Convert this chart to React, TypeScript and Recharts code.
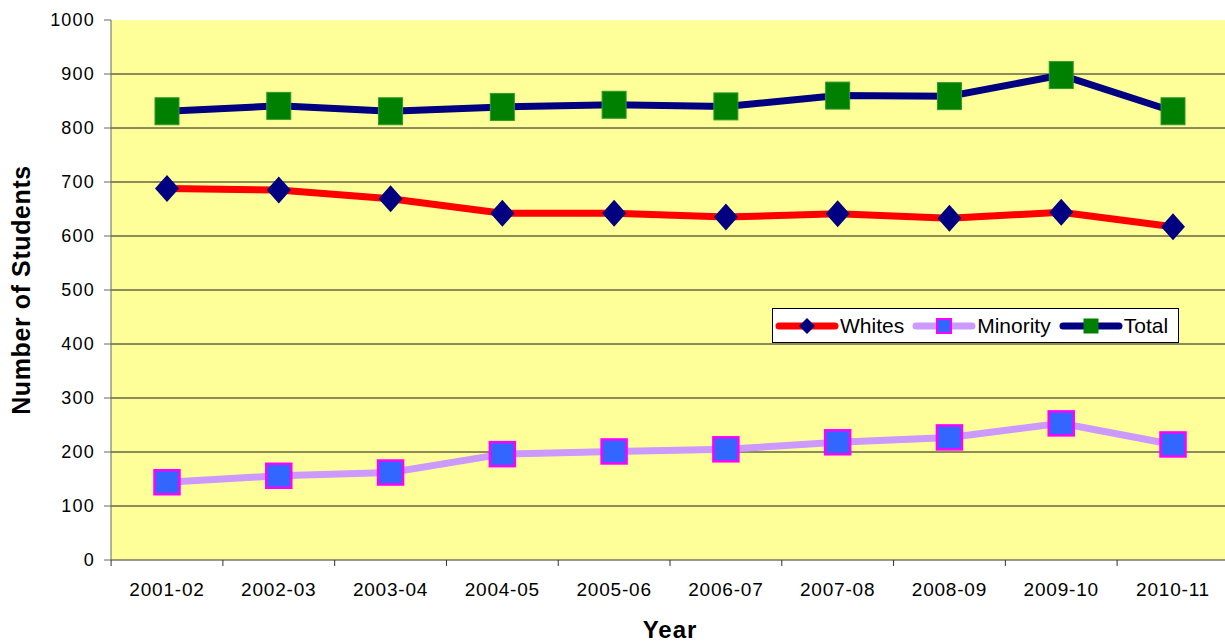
import {
  CartesianGrid,
  Legend,
  Line,
  LineChart,
  XAxis,
  YAxis,
} from 'recharts'

const years = [
  '2001-02', '2002-03', '2003-04', '2004-05', '2005-06',
  '2006-07', '2007-08', '2008-09', '2009-10', '2010-11',
]
const whites = [688, 685, 669, 642, 642, 635, 641, 633, 644, 617]
const minority = [144, 156, 162, 196, 201, 205, 218, 227, 253, 214]
const total = [831, 841, 831, 839, 843, 840, 860, 859, 898, 831]

const yTicks = [0, 100, 200, 300, 400, 500, 600, 700, 800, 900, 1000]
const gridValues = [100, 200, 300, 400, 500, 600, 700, 800, 900]
const legendOrder = ['whites', 'minority', 'total']

const data = years.map((year, i) => ({
  year,
  whites: whites[i],
  minority: minority[i],
  total: total[i],
}))

const font = '"Liberation Sans", Arial, sans-serif'
const X_TICK_GAP = 23

// label + small tick marks on the category boundaries (Excel style)
const XTick = (props: any) => {
  const { x, y, payload, index, width } = props
  const half = width / years.length / 2
  const axisY = y - X_TICK_GAP
  return (
    <g>
      {index === 0 && <line x1={x - half} x2={x - half} y1={axisY} y2={axisY + 6} stroke="#333" />}
      <line x1={x + half} x2={x + half} y1={axisY} y2={axisY + 6} stroke="#333" />
      <text
        x={x}
        y={y}
        dy="0.71em"
        textAnchor="middle"
        fill="#000"
        fontSize={19}
        fontFamily={font}
        letterSpacing={0.8}
      >
        {payload.value}
      </text>
    </g>
  )
}

const whitesDot = (p: any) => (
  <polygon
    key={`w-${p.index}`}
    points={`${p.cx},${p.cy - 13.5} ${p.cx + 12},${p.cy} ${p.cx},${p.cy + 13.5} ${p.cx - 12},${p.cy}`}
    fill="#000080"
  />
)

const minorityDot = (p: any) => (
  <rect
    key={`m-${p.index}`}
    x={p.cx - 12.5}
    y={p.cy - 12}
    width={25}
    height={24}
    fill="#3366FF"
    stroke="#FF00FF"
    strokeWidth={2.5}
  />
)

const totalDot = (p: any) => (
  <rect
    key={`t-${p.index}`}
    x={p.cx - 12}
    y={p.cy - 13.5}
    width={24}
    height={27}
    fill="#008000"
    stroke="#2e9a2e"
    strokeWidth={1}
  />
)

const legendIcon = (key: string, color: string) => (
  <svg width={64} height={18} style={{ display: 'block' }}>
    <line x1={4} y1={9} x2={60} y2={9} stroke={color} strokeWidth={7} strokeLinecap="round" />
    {key === 'whites' && <polygon points="32,1 40,9 32,17 24,9" fill="#000080" />}
    {key === 'minority' && (
      <rect x={25} y={2} width={14} height={14} fill="#3366FF" stroke="#FF00FF" strokeWidth={2} />
    )}
    {key === 'total' && <rect x={24.5} y={1.5} width={15} height={15} fill="#008000" />}
  </svg>
)

const renderLegend = (props: any) => {
  const items = [...(props.payload || [])].sort(
    (a: any, b: any) => legendOrder.indexOf(a.dataKey) - legendOrder.indexOf(b.dataKey),
  )
  return (
    <div
      style={{
        display: 'flex',
        alignItems: 'center',
        height: 33,
        padding: '0 2px',
        border: '1px solid #000',
        background: '#fff',
        fontFamily: font,
        fontSize: 21,
        color: '#000',
        whiteSpace: 'nowrap',
      }}
    >
      {items.map((entry: any) => (
        <div key={entry.dataKey} style={{ display: 'flex', alignItems: 'center', marginRight: 8 }}>
          {legendIcon(entry.dataKey, entry.color)}
          <span style={{ marginLeft: 1 }}>{entry.value}</span>
        </div>
      ))}
    </div>
  )
}

export default function App() {
  return (
    <div
      style={{
        position: 'absolute',
        left: 0,
        top: 0,
        width: 1225,
        height: 642,
        overflow: 'hidden',
        background: '#fff',
      }}
    >
      <LineChart
        width={1229}
        height={642}
        data={data}
        margin={{ top: 20, right: 0, left: 0, bottom: 0 }}
      >
        <CartesianGrid
          vertical={false}
          horizontalValues={gridValues}
          fill="#FFFF99"
          fillOpacity={1}
          stroke="#1a1a1a"
          strokeWidth={1}
        />
        <XAxis
          dataKey="year"
          height={82}
          padding={{ left: 56, right: 56 }}
          axisLine={{ stroke: '#333' }}
          tickLine={false}
          tickSize={0}
          tickMargin={X_TICK_GAP}
          interval={0}
          tick={XTick}
          label={{
            value: 'Year',
            position: 'insideBottom',
            offset: 4,
            style: { fontFamily: font, fontSize: 24, fontWeight: 'bold', fill: '#000', letterSpacing: 1 },
          }}
        />
        <YAxis
          width={111}
          domain={[0, 1000]}
          ticks={yTicks}
          interval={0}
          axisLine={{ stroke: '#666' }}
          tickLine={{ stroke: '#666' }}
          tickSize={7}
          tickMargin={9}
          tick={{ fill: '#000', fontSize: 18, fontFamily: font, letterSpacing: 1.2 }}
          label={{
            value: 'Number of Students',
            angle: -90,
            position: 'insideLeft',
            offset: 21,
            style: {
              textAnchor: 'middle',
              fontFamily: font,
              fontSize: 25,
              fontWeight: 'bold',
              fill: '#000',
              letterSpacing: 0.6,
            },
          }}
        />
        <Legend
          layout="horizontal"
          verticalAlign="middle"
          align="center"
          wrapperStyle={{ left: 772, top: 308, width: 'auto' }}
          content={renderLegend}
        />
        <Line
          type="linear"
          dataKey="whites"
          name="Whites"
          stroke="#FF0000"
          strokeWidth={7}
          dot={whitesDot}
          activeDot={false}
          isAnimationActive={false}
        />
        <Line
          type="linear"
          dataKey="minority"
          name="Minority"
          stroke="#CC99FF"
          strokeWidth={7}
          dot={minorityDot}
          activeDot={false}
          isAnimationActive={false}
        />
        <Line
          type="linear"
          dataKey="total"
          name="Total"
          stroke="#000080"
          strokeWidth={7}
          dot={totalDot}
          activeDot={false}
          isAnimationActive={false}
        />
      </LineChart>
    </div>
  )
}
